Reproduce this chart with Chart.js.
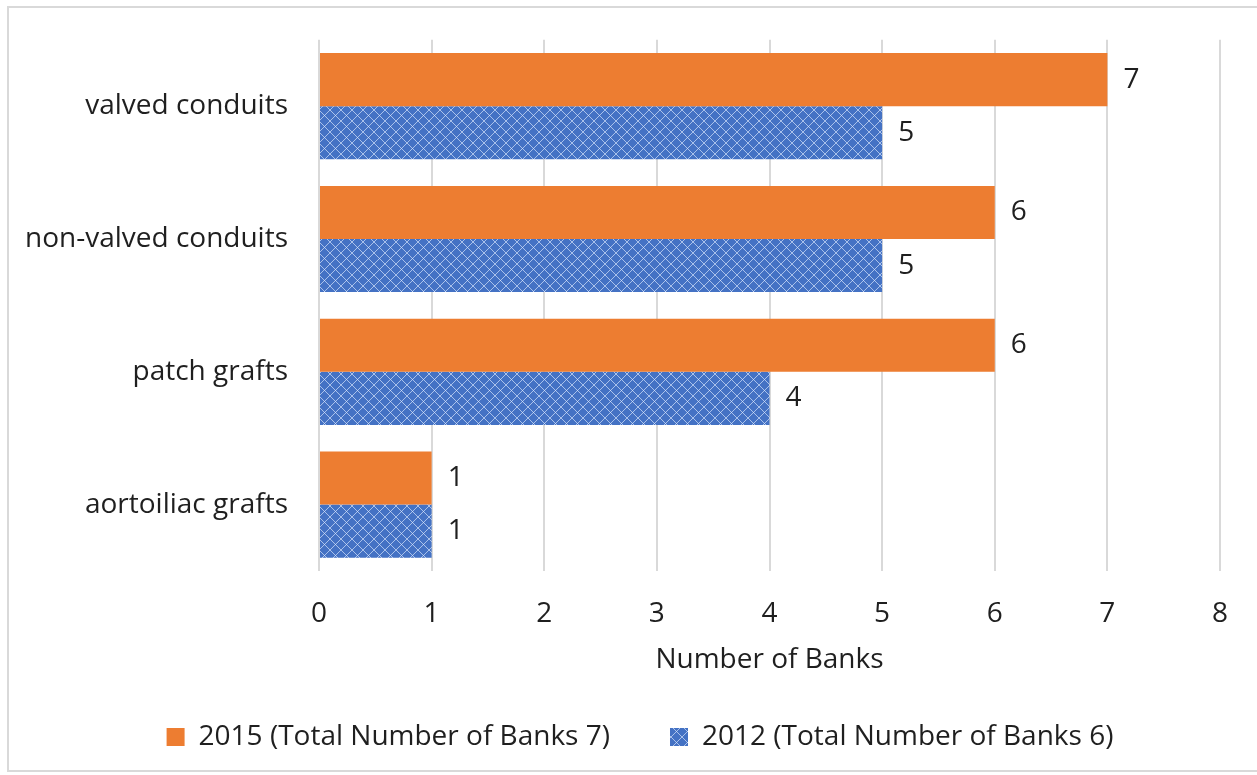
<!DOCTYPE html>
<html>
<head>
<meta charset="utf-8">
<script src="https://cdn.jsdelivr.net/npm/chart.js@4/dist/chart.umd.min.js"></script>
<style>
  html, body { margin: 0; padding: 0; background: #fff; }
  #frame { position: absolute; left: 7px; top: 6px; width: 1260px; height: 762px; border: 2px solid #d9d9d9; }
  #wrap { position: absolute; left: 0; top: 0; width: 1257px; height: 775px; }
</style>
</head>
<body>
<div id="frame"></div>
<div id="wrap"><canvas id="chart"></canvas></div>
<script>
const categories = ['valved conduits', 'non-valved conduits', 'patch grafts', 'aortoiliac grafts'];
const series2015 = [7, 6, 6, 1];
const series2012 = [5, 5, 4, 1];
const seriesNames = ['2015 (Total Number of Banks 7)', '2012 (Total Number of Banks 6)'];
const axisTitle = 'Number of Banks';

const FONT = '"Open Sans", Lato, sans-serif';
const FSIZE = 28;
const TEXT = '#1f1f1f';

// blue lattice fill like the office "trellis" pattern
function makePattern() {
    let c = document.createElement('canvas');
    c.width = 11; c.height = 11;
    let g = c.getContext('2d');
    g.fillStyle = '#4472C4';
    g.fillRect(0, 0, 11, 11);
    g.strokeStyle = 'rgba(225,235,255,0.65)';
    g.lineWidth = 1;
    g.beginPath();
    g.moveTo(0, 0); g.lineTo(11, 11);
    g.moveTo(11, 0); g.lineTo(0, 11);
    g.stroke();
    return g.createPattern(c, 'repeat');
}

const valueLabels = {
    id: 'valueLabels',
    afterDatasetsDraw(chart) {
        let ctx = chart.ctx;
        ctx.save();
        ctx.font = FSIZE + 'px ' + FONT;
        ctx.fillStyle = TEXT;
        ctx.textAlign = 'left';
        ctx.textBaseline = 'middle';
        chart.data.datasets.forEach(function(ds, i) {
            chart.getDatasetMeta(i).data.forEach(function(bar, j) {
                ctx.fillText(String(ds.data[j]), bar.x + 16, bar.y);
            });
        });
        ctx.restore();
    }
};

// legend sits a bit right of the plot centre in the original
const shiftLegend = {
    id: 'shiftLegend',
    afterLayout(chart) {
        chart.legend.left += 30;
        chart.legend.right += 30;
    }
};

const pattern = makePattern();
const ctx = document.getElementById('chart').getContext('2d');
new Chart(ctx, {
    type: 'bar',
    data: {
        labels: categories,
        datasets: [{
            label: seriesNames[0],
            data: series2015,
            backgroundColor: '#ED7D31',
            categoryPercentage: 0.8,
            barPercentage: 1.0
        }, {
            label: seriesNames[1],
            data: series2012,
            backgroundColor: pattern,
            categoryPercentage: 0.8,
            barPercentage: 1.0
        }]
    },
    options: {
        indexAxis: 'y',
        responsive: true,
        maintainAspectRatio: false,
        animation: false,
        layout: { padding: { left: 0, right: 37, top: 30, bottom: 14 } },
        scales: {
            x: {
                min: 0, max: 8,
                ticks: { stepSize: 1, color: TEXT, font: { family: FONT, size: FSIZE }, padding: 26 },
                grid: { color: '#d9d9d9', lineWidth: 2, drawTicks: false },
                border: { display: false },
                title: { display: true, text: axisTitle, color: TEXT, font: { family: FONT, size: FSIZE }, padding: { top: 0, bottom: -14 } },
                afterFit: function(scale) { scale.height = 92; }
            },
            y: {
                ticks: { color: TEXT, font: { family: FONT, size: FSIZE }, padding: 23 },
                grid: { display: false },
                border: { display: false },
                afterFit: function(scale) { scale.width = 319; }
            }
        },
        plugins: {
            legend: {
                position: 'bottom',
                labels: { color: TEXT, font: { family: FONT, size: FSIZE }, boxWidth: 18, boxHeight: 18, padding: 60 }
            },
            tooltip: { enabled: false }
        }
    },
    plugins: [valueLabels, shiftLegend]
});
</script>
</body>
</html>
